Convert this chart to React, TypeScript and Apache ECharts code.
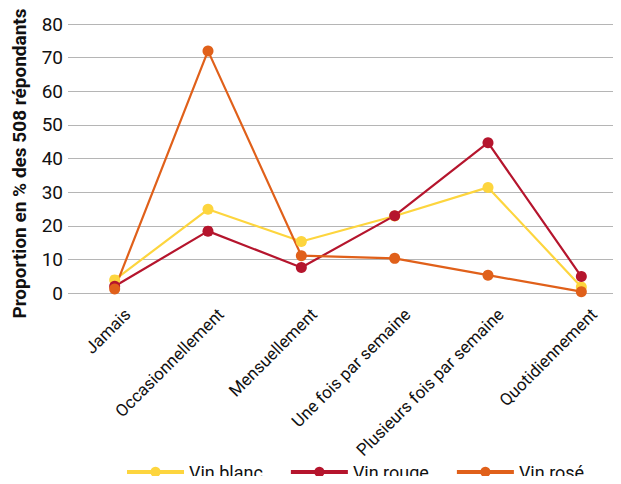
import React, { useEffect, useRef } from "react";
import * as echarts from "echarts";

const categories = [
  "Jamais",
  "Occasionnellement",
  "Mensuellement",
  "Une fois par semaine",
  "Plusieurs fois par semaine",
  "Quotidiennement",
];
const vinBlanc = [3.9, 24.9, 15.3, 22.9, 31.4, 1.8];
const vinRouge = [2.0, 18.4, 7.6, 23.0, 44.7, 4.9];
const vinRose = [1.2, 72.0, 11.1, 10.3, 5.3, 0.4];
const yTicks = [0, 10, 20, 30, 40, 50, 60, 70, 80];

const FONT = "Roboto, 'Noto Sans', sans-serif";

export default function App() {
  const ref = useRef<HTMLDivElement>(null);

  useEffect(() => {
    if (!ref.current) return;
    const chart = echarts.init(ref.current, undefined, { renderer: "svg" });
    const mkSeries = (name: string, data: number[], color: string) => ({
      name,
      type: "line",
      data,
      symbol: "circle",
      symbolSize: 11,
      lineStyle: { color, width: 2.2 },
      itemStyle: { color },
      z: 3,
    });
    chart.setOption({
      animation: false,
      textStyle: { fontFamily: FONT },
      grid: {
        left: 68,
        right: -7,
        top: 24,
        bottom: 191,
        containLabel: false,
        outerBoundsMode: "none",
      },
      legend: {
        bottom: -2,
        left: 120,
        itemWidth: 57,
        itemHeight: 13,
        itemGap: 26,
        lineStyle: { width: 4 },
        textStyle: { fontSize: 18, color: "#111", fontFamily: FONT },
        data: ["Vin blanc", "Vin rouge", "Vin rosé"],
      },
      xAxis: {
        type: "category",
        data: categories,
        boundaryGap: true,
        axisLine: { show: false },
        axisTick: { show: false },
        axisLabel: {
          rotate: 45,
          interval: 0,
          fontSize: 17,
          color: "#111",
          margin: 31,
          padding: [0, -18, 0, 0],
          fontFamily: FONT,
        },
      },
      yAxis: {
        type: "value",
        min: yTicks[0],
        max: yTicks[yTicks.length - 1],
        interval: 10,
        name: "Proportion en % des 508 répondants",
        nameLocation: "middle",
        nameGap: 39,
        nameTextStyle: {
          fontSize: 19,
          fontWeight: "bold",
          color: "#111",
          fontFamily: FONT,
          padding: [0, 10, 0, 0],
        },
        axisLine: { show: false },
        axisTick: { show: false },
        axisLabel: { fontSize: 19, color: "#111", margin: 5, fontFamily: FONT },
        splitLine: { lineStyle: { color: "#b5b5b5", width: 1 } },
      },
      series: [
        mkSeries("Vin blanc", vinBlanc, "#fdd53e"),
        mkSeries("Vin rouge", vinRouge, "#b5152d"),
        mkSeries("Vin rosé", vinRose, "#e0601a"),
      ],
    });
    return () => chart.dispose();
  }, []);

  return <div ref={ref} style={{ width: 621, height: 484, margin: -8 }} />;
}
